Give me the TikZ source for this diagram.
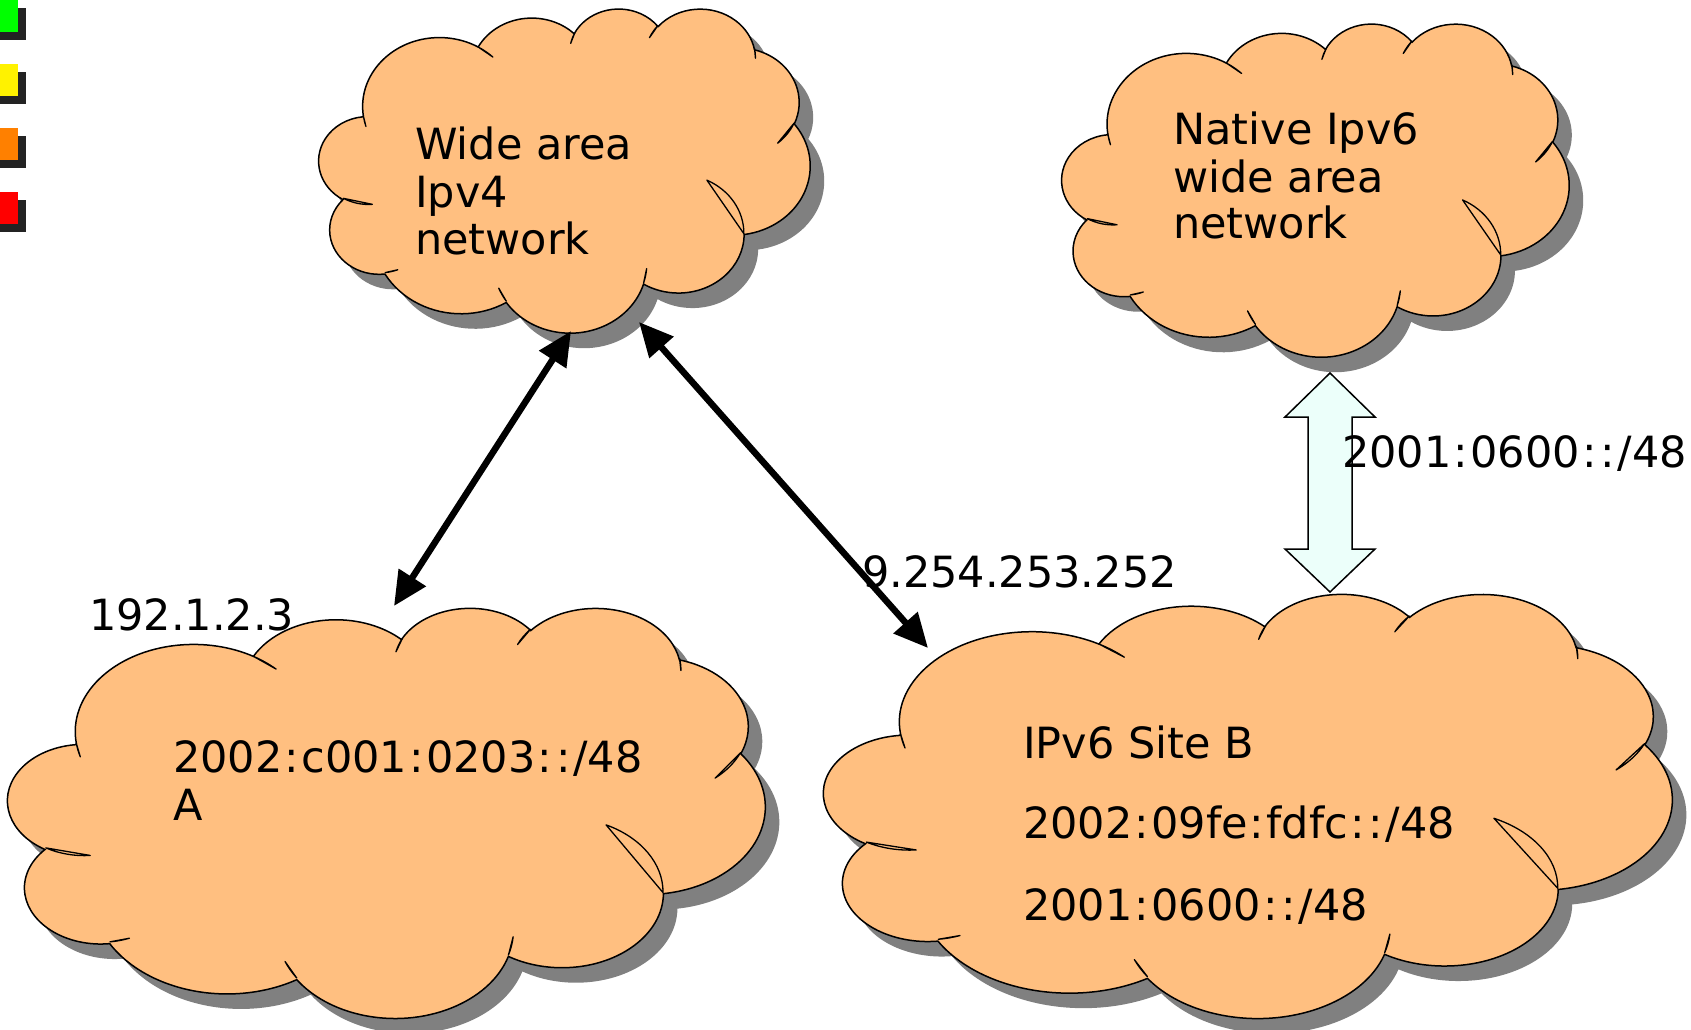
\documentclass[tikz,border=0pt]{standalone}
\usepackage{fontspec}
\setmainfont{DejaVu Sans}
\usetikzlibrary{arrows.meta}
\definecolor{cloudfill}{RGB}{255,191,128}
\definecolor{shadowgray}{RGB}{128,128,128}
\definecolor{legshadow}{RGB}{35,35,35}
\definecolor{blockfill}{RGB}{236,255,250}
\newcommand\cl{\kern2.2pt:\kern2.2pt}
\newcommand\carc[4]{%
  \pgfextra{%
    \pgfmathparse{atan2((#1)*sin(#3),(#2)*cos(#3))}\xdef\cta{\pgfmathresult}%
    \pgfmathparse{atan2((#1)*sin(#3+#4),(#2)*cos(#3+#4))}\xdef\cte{\pgfmathresult}%
    \pgfmathparse{\cte-\cta}\let\ctdtmp\pgfmathresult
    \pgfmathparse{\ctdtmp+((#4)>0)*(\ctdtmp<0)*360-((#4)<0)*(\ctdtmp>0)*360}\xdef\ctd{\pgfmathresult}%
  }%
  arc[x radius=#1, y radius=#2, start angle=\cta, delta angle=\ctd]}
\def\cloudoutline{(3.9,14.37)
 \carc{6.753}{9.190}{-190.4875}{123.7805}
 \carc{5.333}{7.267}{-144.1024}{89.9452}
 \carc{4.365}{5.945}{-145.8079}{99.7230}
 \carc{4.857}{6.595}{-130.9861}{117.2417}
 \carc{5.333}{7.273}{-78.7089}{109.0269}
 \carc{6.775}{9.220}{-46.2673}{130.2690}
 \carc{5.785}{7.867}{0.6250}{114.0333}
 \carc{6.752}{9.215}{22.4516}{115.1726}
 \carc{7.720}{10.543}{66.2426}{75.7110}
 \carc{4.360}{5.918}{-274.9421}{146.7356}
 \carc{4.345}{5.945}{-246.8285}{152.5189}
 -- cycle}
\def\cloudinner{%
 (4.693,26.177) \carc{4.345}{5.945}{86.7420}{26.4295} -- cycle
 (6.928,34.899) \carc{4.360}{5.918}{73.6105}{11.4475} -- cycle
 (16.478,39.090) \carc{6.752}{9.215}{137.6242}{14.0811} -- cycle
 (28.827,34.751) \carc{6.752}{9.215}{6.4533}{15.9984} -- cycle
 (34.129,22.954) \carc{5.785}{7.867}{-70.2924}{70.9174} -- cycle
 (41.798,15.354) \carc{5.333}{7.273}{30.3180}{27.7515} -- cycle
 (38.324,5.426) \carc{4.857}{6.595}{-13.7443}{14.8589} -- cycle
 (29.078,3.952) \carc{4.857}{6.595}{-149.1815}{18.1954} -- cycle
 (22.141,4.720) \carc{4.365}{5.945}{-163.4943}{17.6864} -- cycle
 (14.000,5.192) \carc{6.753}{9.190}{-66.7070}{12.3194} -- cycle
 (4.127,15.789) \carc{6.753}{9.190}{157.6544}{11.8582} -- cycle}
\newcommand\drawcloud[5]{%
  \pgfmathsetmacro\csx{#3/43.2}\pgfmathsetmacro\csy{#4/43.2}%
  \begin{scope}[shift={(#1+14,#2+15)}, x=\csx pt, y=-\csy pt]
    \fill[shadowgray] \cloudoutline;
  \end{scope}
  \begin{scope}[shift={(#1,#2)}, x=\csx pt, y=-\csy pt]
    \filldraw[fill=cloudfill, draw=black, line width=1.5pt] \cloudoutline;
    \draw[line width=1.3pt, line join=round] \cloudinner;
    \coordinate (#5) at (21.6,21.6);
  \end{scope}}
\tikzset{
  txt/.style={font=\fontsize{43}{50}\selectfont, inner sep=0pt, anchor=base west},
  link/.style={line width=6.5pt, {Triangle[length=34pt,width=31pt]}-{Triangle[length=34pt,width=31pt]}},
  block/.style={fill=blockfill, draw=black, line width=1.5pt, line join=miter}
}
\begin{document}
\begin{tikzpicture}[x=1pt, y=-1pt]
\path[use as bounding box] (0,0) rectangle (1691,1029);
\clip (0,0) rectangle (1691,1029);
\fill[white] (0,0) rectangle (1691,1029);
% legend squares
\foreach \yy/\cc in {0/green, 64/yellow, 128/orange, 192/red}{
  \fill[legshadow] (-6,\yy+8) rectangle (26,\yy+40);
  \fill[\cc] (-14,\yy) rectangle (18,\yy+32);
}
% clouds
\drawcloud{319}{8}{491}{324}{ipv4}
\drawcloud{1062}{23}{507}{333}{native}
\drawcloud{8}{607}{757}{410}{siteA}
\drawcloud{824}{593}{848}{424}{siteB}
% connector end points
\coordinate (ipv4L) at (571,331);
\coordinate (ipv4R) at (639,322);
\coordinate (siteAtop) at (394,606);
\coordinate (siteBtop) at (928,648);
\coordinate (nativeBot) at (1330,373);
\coordinate (siteBblk) at (1330,592);
\draw[link] (siteAtop) -- (ipv4L);
\draw[link] (ipv4R) -- (siteBtop);
\draw[block] (nativeBot) -- ++(45,44) -- ++(-23,0) -- ++(0,132) -- ++(23,0)
  -- (siteBblk) -- ++(-45,-43) -- ++(23,0) -- ++(0,-132) -- ++(-23,0) -- cycle;
% texts
\node[txt] (t1) at (415,159) {Wide area};
\node[txt] (t2) at (415,207) {Ipv4};
\node[txt] (t3) at (415,254) {network};
\node[txt] (n1) at (1173,144) {Native Ipv6};
\node[txt] (n2) at (1173,192) {wide area};
\node[txt] (n3) at (1173,238) {network};
\node[txt] (a1) at (173,772) {2002\cl c001\cl 0203\cl\cl/48};
\node[txt] (a2) at (173,820) {A};
\node[txt] (b1) at (1023,758) {IPv6 Site B};
\node[txt] (b2) at (1023,838) {2002\cl 09fe\cl fdfc\cl\cl/48};
\node[txt] (b3) at (1023,920) {2001\cl 0600\cl\cl/48};
\node[txt] (l1) at (89,630) {192.1.2.3};
\node[txt] (l2) at (862,587) {9.254.253.252};
\node[txt] (l3) at (1342,467) {2001\cl 0600\cl\cl/48};
\end{tikzpicture}
\end{document}
